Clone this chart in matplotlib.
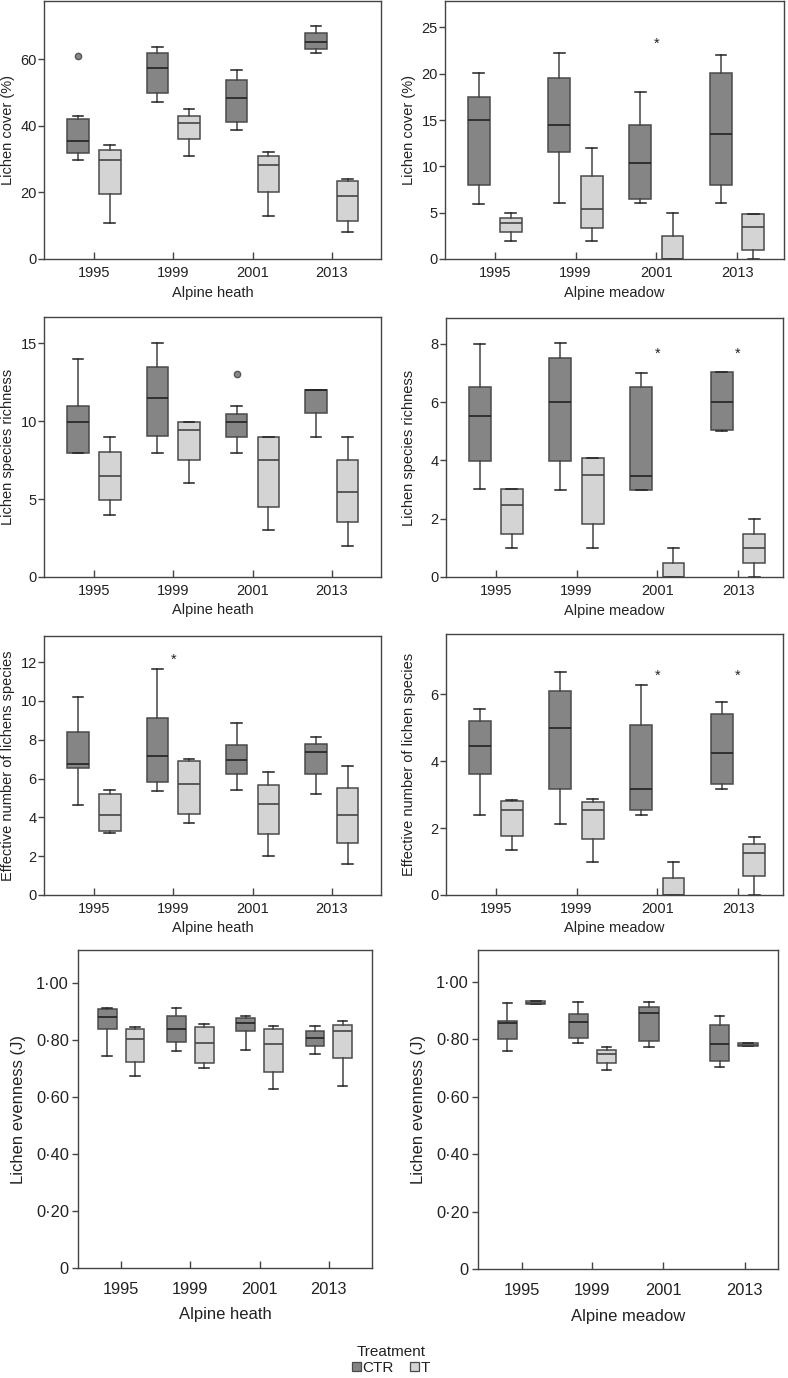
import matplotlib
matplotlib.use('Agg')
import matplotlib.pyplot as plt
from matplotlib.patches import Patch

plt.rcParams['font.family'] = ['Liberation Sans', 'DejaVu Sans']
plt.rcParams['text.color'] = '#222222'
plt.rcParams['axes.labelcolor'] = '#222222'
plt.rcParams['xtick.color'] = '#444444'
plt.rcParams['ytick.color'] = '#444444'
plt.rcParams['xtick.labelcolor'] = '#222222'
plt.rcParams['ytick.labelcolor'] = '#222222'

# ---------------- data ----------------
years = ['1995', '1999', '2001', '2013']
# each entry: [whisker low, Q1, median, Q3, whisker high]
heath_cover_ctr = [[29.8, 31.8, 35.3, 42.0, 43.0], [47.1, 50.0, 57.5, 61.8, 63.8],
                   [38.8, 41.1, 48.5, 53.9, 56.9], [62.0, 63.1, 65.1, 67.8, 69.9]]
heath_cover_t = [[10.8, 19.6, 29.8, 32.8, 34.1], [31.0, 36.0, 40.8, 42.9, 45.1],
                 [12.8, 20.0, 28.3, 30.9, 32.0], [8.0, 11.3, 18.9, 23.3, 24.0]]
heath_cover_ctr_out = [[60.9], [], [], []]

meadow_cover_ctr = [[5.9, 7.95, 15.0, 17.5, 20.1], [6.0, 11.6, 14.5, 19.5, 22.2],
                    [6.05, 6.45, 10.4, 14.5, 18.05], [6.0, 7.95, 13.5, 20.1, 22.0]]
meadow_cover_t = [[1.93, 2.94, 3.94, 4.4, 5.0], [1.93, 3.4, 5.44, 8.95, 12.0],
                  [0.0, 0.0, 0.0, 2.5, 5.0], [0.0, 0.97, 3.44, 4.87, 4.87]]
meadow_cover_stars = [(2, 23.35)]

heath_rich_ctr = [[7.93, 7.97, 9.96, 10.98, 13.95], [7.97, 9.02, 11.47, 13.46, 15.0],
                  [7.97, 8.97, 9.96, 10.47, 10.96], [9.0, 10.5, 12.0, 12.0, 12.0]]
heath_rich_t = [[3.95, 4.96, 6.45, 7.99, 8.97], [6.0, 7.48, 9.44, 9.91, 9.96],
                [2.99, 4.49, 7.48, 8.97, 9.0], [1.97, 3.5, 5.45, 7.5, 9.0]]
heath_rich_ctr_out = [[], [], [13.0], []]

meadow_rich_ctr = [[3.02, 3.99, 5.51, 6.51, 8.0], [3.0, 3.97, 6.0, 7.52, 8.02],
                   [3.0, 3.0, 3.47, 6.51, 7.0], [5.0, 5.03, 6.0, 7.04, 7.04]]
meadow_rich_t = [[1.0, 1.47, 2.46, 3.01, 3.01], [1.0, 1.82, 3.5, 4.1, 4.1],
                 [0.0, 0.0, 0.0, 0.48, 1.0], [0.0, 0.49, 1.0, 1.49, 1.98]]
meadow_rich_stars = [(2, 7.71), (3, 7.71)]

heath_eff_ctr = [[4.66, 6.53, 6.74, 8.42, 10.2], [5.37, 5.85, 7.15, 9.1, 11.66],
                 [5.43, 6.26, 6.94, 7.75, 8.85], [5.19, 6.22, 7.35, 7.77, 8.16]]
heath_eff_t = [[3.19, 3.31, 4.13, 5.19, 5.42], [3.72, 4.17, 5.71, 6.93, 7.03],
               [2.0, 3.14, 4.71, 5.69, 6.36], [1.58, 2.67, 4.1, 5.54, 6.67]]
heath_eff_stars = [(1, 12.22)]

meadow_eff_ctr = [[2.38, 3.62, 4.45, 5.22, 5.56], [2.11, 3.18, 4.99, 6.1, 6.66],
                  [2.39, 2.55, 3.18, 5.09, 6.28], [3.17, 3.31, 4.24, 5.41, 5.78]]
meadow_eff_t = [[1.36, 1.78, 2.53, 2.82, 2.84], [0.99, 1.67, 2.53, 2.78, 2.88],
                [0.0, 0.0, 0.0, 0.5, 1.0], [0.0, 0.58, 1.26, 1.54, 1.75]]
meadow_eff_stars = [(2, 6.59), (3, 6.59)]

heath_even_ctr = [[0.743, 0.837, 0.88, 0.907, 0.912], [0.76, 0.791, 0.837, 0.884, 0.911],
                  [0.764, 0.83, 0.858, 0.875, 0.884], [0.751, 0.778, 0.805, 0.83, 0.847]]
heath_even_t = [[0.671, 0.722, 0.802, 0.837, 0.846], [0.702, 0.719, 0.788, 0.846, 0.855],
                [0.628, 0.686, 0.786, 0.839, 0.848], [0.638, 0.735, 0.83, 0.853, 0.865]]

meadow_even_ctr = [[0.758, 0.8, 0.855, 0.862, 0.925], [0.786, 0.805, 0.859, 0.886, 0.928],
                   [0.774, 0.793, 0.89, 0.911, 0.93], [0.702, 0.723, 0.782, 0.848, 0.882]]
meadow_even_t = [[0.922, 0.922, 0.927, 0.932, 0.932], [0.691, 0.716, 0.749, 0.762, 0.774],
                 None, [0.775, 0.775, 0.78, 0.786, 0.786]]

even_ticks = [0, 0.2, 0.4, 0.6, 0.8, 1.0]
even_ticklabels = ['0', '0·20', '0·40', '0·60', '0·80', '1·00']

# ---------------- style ----------------
CTR_FILL = '#858585'
T_FILL = '#d4d4d4'
EDGE = '#4a4a4a'
W, H = 788, 1378

fig = plt.figure(figsize=(W / 100, H / 100), dpi=100)


def add_ax(l, t, r, b):
    return fig.add_axes([l / W, 1 - b / H, (r - l) / W, (b - t) / H])


def stats_list(vals, outs=None):
    res, pos = [], []
    for i, v in enumerate(vals):
        if v is None:
            continue
        d = dict(whislo=v[0], q1=v[1], med=v[2], q3=v[3], whishi=v[4],
                 fliers=(outs[i] if outs else []))
        res.append(d)
        pos.append(i + 1)
    return res, pos


def draw_boxes(ax, ctr, t, ctr_out=None, t_out=None):
    for vals, outs, fill, off, medc in ((ctr, ctr_out, CTR_FILL, -0.2, '#222222'),
                                        (t, t_out, T_FILL, 0.2, '#444444')):
        st, pos = stats_list(vals, outs)
        ax.bxp(st, positions=[p + off for p in pos], widths=0.27,
               patch_artist=True, manage_ticks=False,
               boxprops=dict(facecolor=fill, edgecolor=EDGE, linewidth=1.1),
               medianprops=dict(color=medc, linewidth=1.2),
               whiskerprops=dict(color='#444444', linewidth=1.1),
               capprops=dict(color='#222222', linewidth=1.1),
               flierprops=dict(marker='o', markerfacecolor='#888888',
                               markeredgecolor='#555555', markersize=4.5))


def style(ax, xlim, ylim, yticks, yticklabels=None, fs=10.5, xpad=5, ypad=1.2,
          xticks=(1, 2, 3, 4)):
    ax.set_xlim(*xlim)
    ax.set_ylim(*ylim)
    ax.set_xticks(list(xticks))
    ax.set_xticklabels(years)
    ax.set_yticks(yticks)
    if yticklabels is not None:
        ax.set_yticklabels(yticklabels)
    ax.tick_params(axis='x', direction='in', length=5, width=1, pad=xpad, labelsize=fs)
    ax.tick_params(axis='y', direction='out', length=4, width=1, pad=ypad, labelsize=fs)
    for s in ax.spines.values():
        s.set_color('#444444')
        s.set_linewidth(1.0)


def labels(ax, box, xl, yl, xl_y, yl_x, fs=10.5):
    l, t, r, b = box
    ax.set_xlabel(xl, fontsize=fs)
    ax.set_ylabel(yl, fontsize=fs)
    ax.xaxis.set_label_coords(0.5, (b - xl_y) / (b - t))
    ax.xaxis.label.set_va('center')
    ax.yaxis.set_label_coords((yl_x - l) / (r - l), 0.5)
    ax.yaxis.label.set_va('center')


def stars(ax, lst, fs=10.5):
    for i, y in lst:
        ax.annotate('*', (i + 1, y), xytext=(0, -1), textcoords='offset points',
                    ha='center', va='center', fontsize=fs, color='#222222')


# panel boxes in pixels (left, top, right, bottom)
B1 = (44, 1, 381, 259)
B2 = (445, 1, 784, 259)
B3 = (44, 317, 381, 577)
B4 = (446, 318, 783, 577)
B5 = (44, 636, 381, 895)
B6 = (446, 634, 783, 895)
B7 = (78, 950, 372, 1268)
B8 = (478, 950, 778, 1269)

ax1 = add_ax(*B1)
draw_boxes(ax1, heath_cover_ctr, heath_cover_t, heath_cover_ctr_out)
style(ax1, (0.37, 4.62), (0, 77.5), [0, 20, 40, 60])
labels(ax1, B1, 'Alpine heath', 'Lichen cover (%)', 293, 8)

ax2 = add_ax(*B2)
draw_boxes(ax2, meadow_cover_ctr, meadow_cover_t)
style(ax2, (0.384, 4.58), (0, 27.85), [0, 5, 10, 15, 20, 25])
labels(ax2, B2, 'Alpine meadow', 'Lichen cover (%)', 293, 409)
stars(ax2, meadow_cover_stars)

ax3 = add_ax(*B3)
draw_boxes(ax3, heath_rich_ctr, heath_rich_t, heath_rich_ctr_out)
style(ax3, (0.37, 4.62), (0, 16.67), [0, 5, 10, 15])
labels(ax3, B3, 'Alpine heath', 'Lichen species richness', 610, 8)

ax4 = add_ax(*B4)
draw_boxes(ax4, meadow_rich_ctr, meadow_rich_t)
style(ax4, (0.384, 4.556), (0, 8.89), [0, 2, 4, 6, 8])
labels(ax4, B4, 'Alpine meadow', 'Lichen species richness', 611, 409)
stars(ax4, meadow_rich_stars)

ax5 = add_ax(*B5)
draw_boxes(ax5, heath_eff_ctr, heath_eff_t)
style(ax5, (0.37, 4.62), (0, 13.35), [0, 2, 4, 6, 8, 10, 12])
labels(ax5, B5, 'Alpine heath', 'Effective number of lichens species', 928, 8)
stars(ax5, heath_eff_stars)

ax6 = add_ax(*B6)
draw_boxes(ax6, meadow_eff_ctr, meadow_eff_t)
style(ax6, (0.384, 4.556), (0, 7.81), [0, 2, 4, 6])
labels(ax6, B6, 'Alpine meadow', 'Effective number of lichen species', 928, 409)
stars(ax6, meadow_eff_stars)

ax7 = add_ax(*B7)
draw_boxes(ax7, heath_even_ctr, heath_even_t)
style(ax7, (0.379, 4.623), (0, 1.114), even_ticks, even_ticklabels, fs=11.8,
      xpad=10, ypad=2.5)
labels(ax7, B7, 'Alpine heath', 'Lichen evenness (J)', 1315, 19, fs=12)

ax8 = add_ax(*B8)
draw_boxes(ax8, meadow_even_ctr, meadow_even_t)
style(ax8, (0.383, 4.624), (0, 1.11), even_ticks, even_ticklabels, fs=11.8,
      xpad=10, ypad=2.5, xticks=(1, 2, 3, 4.155))
labels(ax8, B8, 'Alpine meadow', 'Lichen evenness (J)', 1316, 418, fs=12)

handles = [Patch(facecolor=CTR_FILL, edgecolor=EDGE, linewidth=0.9, label='CTR'),
           Patch(facecolor=T_FILL, edgecolor=EDGE, linewidth=0.9, label='T')]
leg = fig.legend(handles=handles, title='Treatment', loc='center',
                 bbox_to_anchor=(391 / W, 1 - 1360 / H), ncol=2, frameon=False,
                 fontsize=11, title_fontsize=11, handlelength=0.55, handleheight=0.55,
                 handletextpad=0.1, columnspacing=1.1, borderpad=0.1,
                 labelspacing=0.1)
leg.get_title().set_color('#222222')

fig.savefig('out.png', dpi=100, facecolor='white')
